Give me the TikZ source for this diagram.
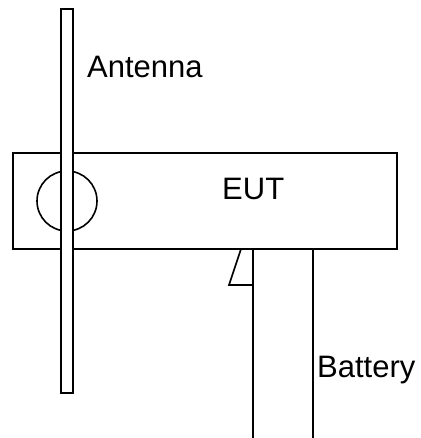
\documentclass[tikz,border=0pt]{standalone}
\usepackage{fontspec}
\setmainfont{Liberation Sans}
\tikzset{
  ln/.style={draw=black,line width=1.6pt},
  lbl/.style={inner sep=0pt,font=\fontsize{31}{36}\selectfont,anchor=base west}
}
\begin{document}
\begin{tikzpicture}[x=1pt,y=-1pt]
\useasboundingbox (0,0) rectangle (420,438);
\fill[white] (0,0) rectangle (420,438);
% EUT box
\draw[ln] (13,153) rectangle (397,249);
% circle
\draw[ln] (67,201) circle [radius=30];
% antenna
\draw[ln,fill=white] (61,9) rectangle (73,393);
% battery
\coordinate (b1) at (253,249);
\coordinate (b2) at (253,438);
\coordinate (b3) at (313,249);
\coordinate (b4) at (313,438);
\draw[ln] (b1) -- (b2);
\draw[ln] (b3) -- (b4);
% connector
\draw[ln,line join=miter] (241,249) -- (229,285) -- (253,285);
\node[lbl] (ant) at (87,78) {Antenna};
\node[lbl] (eut) at (222,199) {EUT};
\node[lbl] (bat) at (317,377) {Battery};
\end{tikzpicture}
\end{document}
